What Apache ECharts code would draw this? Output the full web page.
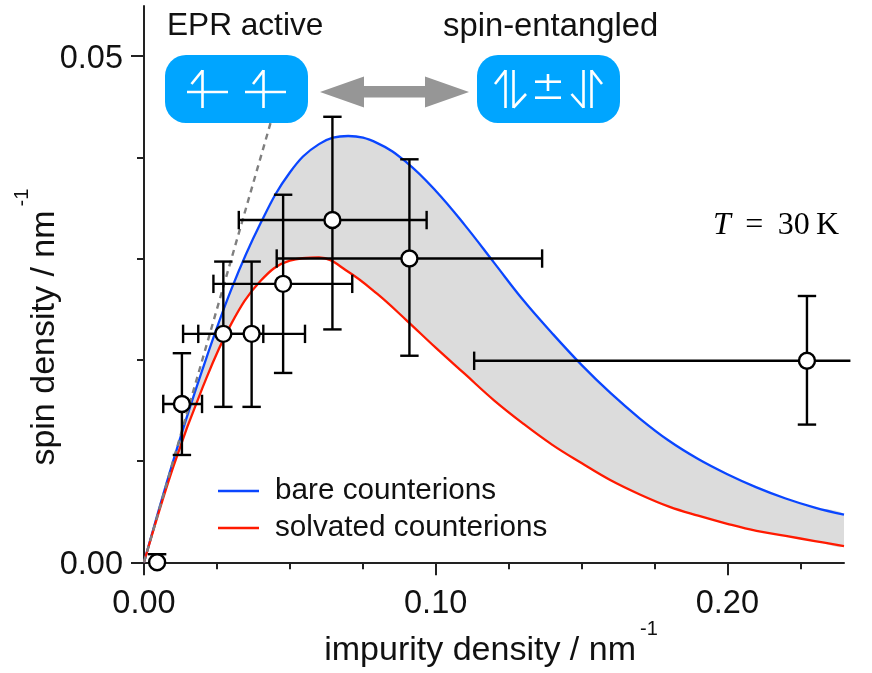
<!DOCTYPE html>
<html>
<head>
<meta charset="utf-8">
<title>spin density</title>
<script src="https://cdn.jsdelivr.net/npm/echarts@6/dist/echarts.min.js"></script>
<style>
  html, body { margin: 0; padding: 0; background: #fff; }
  #chart { width: 872px; height: 673px; }
</style>
</head>
<body>
<div id="chart"></div>
<script>
// curves, one value every 0.01 on the x axis
const curveX = [0, 0.01, 0.02, 0.03, 0.04, 0.05, 0.06, 0.07, 0.08, 0.09, 0.10, 0.11, 0.12,
  0.13, 0.14, 0.15, 0.16, 0.17, 0.18, 0.19, 0.20, 0.21, 0.22, 0.23, 0.24];
const bareValues = [0, 0.0100, 0.0190, 0.0270, 0.0335, 0.0385, 0.0413, 0.0421, 0.0414, 0.0395,
  0.0367, 0.0333, 0.0296, 0.0259, 0.0226, 0.0195, 0.0167, 0.0142, 0.0120, 0.0102,
  0.0087, 0.0074, 0.0063, 0.0054, 0.0047];
const solvatedValues = [0, 0.0094, 0.0172, 0.0236, 0.0278, 0.0298, 0.0301, 0.0287, 0.0265, 0.0239,
  0.0212, 0.0186, 0.0160, 0.0137, 0.0116, 0.0098, 0.0081, 0.0067, 0.0055, 0.0046,
  0.0038, 0.0031, 0.0026, 0.0021, 0.0016];
const linearLimit = [[0, 0], [0.0445, 0.0445]];

// measured points with their error ranges (null = no bar)
const pointX = [0.0045, 0.0130, 0.0272, 0.0369, 0.0477, 0.0646, 0.0910, 0.2273];
const pointY = [0, 0.01564, 0.02256, 0.02256, 0.0275, 0.0338, 0.0300, 0.0199];
const pointXLow = [null, 0.0066, 0.0134, 0.0186, 0.0238, 0.0325, 0.0455, 0.1132];
const pointXHigh = [null, 0.0199, 0.0409, 0.0552, 0.0714, 0.0969, 0.1365, 0.2422];
const pointYLow = [null, 0.0106, 0.01535, 0.01535, 0.0187, 0.0230, 0.0204, 0.0136];
const pointYHigh = [0.0008, 0.02065, 0.0297, 0.0297, 0.0363, 0.0440, 0.0398, 0.0263];
// the last horizontal bar runs off the frame and has no cap on the right
const rightCapped = [false, true, true, true, true, true, true, false];

const xMajorTicks = [0, 0.1, 0.2];
const xMinorTicks = [0.025, 0.05, 0.075, 0.125, 0.15, 0.175, 0.225];
const yMajorTicks = [0, 0.05];
const yMinorTicks = [0.01, 0.02, 0.03, 0.04];

const sans = '"Liberation Sans", Helvetica, Arial, sans-serif';
const serif = '"Liberation Serif", "Times New Roman", serif';
const capSize = 9.2;
const axisColor = '#222';

var bareCurve = curveX.map(function (x, i) { return [x, bareValues[i]]; });
var solvatedCurve = curveX.map(function (x, i) { return [x, solvatedValues[i]]; });

var chart = echarts.init(document.getElementById('chart'));

function line(x1, y1, x2, y2, color, width) {
  return {
    type: 'line',
    shape: { x1: x1, y1: y1, x2: x2, y2: y2 },
    style: { stroke: color, lineWidth: width }
  };
}

// little spin arrows inside the blue boxes
function spinLines(segments) {
  return segments.map(function (s) {
    return Object.assign(line(s[0], s[1], s[2], s[3], '#fff', 2.6), { z: 21 });
  });
}

function box(x) {
  return {
    type: 'rect', z: 20,
    shape: { x: x, y: 55, width: 143, height: 68, r: 21 },
    style: { fill: '#00a5ff' }
  };
}

var graphics = [
  box(165), box(477),
  {
    type: 'polygon', z: 20,
    shape: { points: [[320, 92], [364, 76.5], [364, 86], [425, 86], [425, 76.5], [469, 92], [425, 107.5], [425, 97.5], [364, 97.5], [364, 107.5]] },
    style: { fill: '#969696' }
  },
  { type: 'text', z: 20, x: 167, y: 10, style: { text: 'EPR active', font: '31.6px ' + sans, fill: '#111' } },
  { type: 'text', z: 20, x: 443, y: 10, style: { text: 'spin-entangled', font: '32.8px ' + sans, fill: '#111' } },
  {
    type: 'text', z: 20, x: 713, y: 210,
    style: {
      text: '{i|T} \u2009=\u2009 30\u2009K',
      font: '32px ' + serif, fill: '#000',
      rich: { i: { font: 'italic 32px ' + serif, fill: '#000' } }
    }
  }
].concat(spinLines([
  // left box
  [187, 92, 228, 92], [202.5, 70, 202.5, 108], [202.5, 70.5, 191.5, 84],
  [245, 92, 286, 92], [263.5, 70, 263.5, 108], [263.5, 70.5, 253, 84],
  // right box
  [505.5, 70, 505.5, 108], [505.5, 70.5, 495, 84],
  [513.5, 70, 513.5, 108], [513.5, 107.5, 526, 94],
  [535, 81.7, 561, 81.7], [548, 74, 548, 91], [535, 97.7, 561, 97.7],
  [583.5, 70, 583.5, 108], [583.5, 107.5, 571.5, 94],
  [591.5, 70, 591.5, 108], [591.5, 70.5, 602, 84]
]));

var errorData = pointX.map(function (x, i) {
  return [x, pointY[i], pointXLow[i], pointXHigh[i], pointYLow[i], pointYHigh[i], rightCapped[i] ? 1 : 0];
});

var option = {
  animation: false,
  backgroundColor: '#fff',
  grid: { left: 144, top: 6, width: 700, height: 556.3, containLabel: false, outerBoundsMode: 'none' },
  graphic: graphics,
  legend: {
    data: ['bare counterions', 'solvated counterions'],
    orient: 'vertical',
    left: 218, top: 476, padding: 0,
    itemWidth: 41, itemHeight: 14, itemGap: 7,
    icon: 'path://M0 0H41V2.4H0Z',
    textStyle: { fontFamily: sans, fontSize: 29.7, color: '#111', padding: [6, 0, 0, 11] }
  },
  xAxis: [
    {
      type: 'value', min: 0, max: 0.24, position: 'bottom',
      name: 'impurity density / nm{sup|-1}',
      nameLocation: 'middle', nameGap: 57, nameMoveOverlap: false,
      nameTextStyle: {
        fontFamily: sans, fontSize: 34, color: '#111', padding: [0, 6, 0, 0],
        rich: { sup: { fontFamily: sans, fontSize: 20, color: '#111', padding: [0, 0, 42, 4] } }
      },
      axisLine: { lineStyle: { color: axisColor, width: 2 } },
      axisTick: { length: 13, customValues: xMajorTicks, lineStyle: { color: axisColor, width: 2 } },
      axisLabel: {
        customValues: xMajorTicks, margin: 25,
        fontFamily: sans, fontSize: 32.5, color: '#111',
        formatter: function (v) { return v.toFixed(2); }
      },
      splitLine: { show: false }
    },
    {
      type: 'value', min: 0, max: 0.24, position: 'bottom',
      axisLine: { show: false },
      axisTick: { length: 7, customValues: xMinorTicks, lineStyle: { color: axisColor, width: 2 } },
      axisLabel: { show: false },
      splitLine: { show: false }
    }
  ],
  yAxis: [
    {
      type: 'value', min: 0, max: 0.05494, position: 'left',
      axisLine: { lineStyle: { color: axisColor, width: 2 } },
      axisTick: { length: 13, customValues: yMajorTicks, lineStyle: { color: axisColor, width: 2 } },
      axisLabel: {
        customValues: yMajorTicks, margin: 21, verticalAlign: 'top', lineHeight: 6,
        fontFamily: sans, fontSize: 32.5, color: '#111',
        formatter: function (v) { return v.toFixed(2); }
      },
      name: 'spin density / nm{sup|-1}',
      nameLocation: 'middle', nameRotate: 90, nameGap: 66, nameMoveOverlap: false,
      nameTextStyle: {
        fontFamily: sans, fontSize: 34, color: '#111', padding: [0, 86, 0, 0],
        rich: { sup: { fontFamily: sans, fontSize: 20, color: '#111', padding: [0, 0, 46, 4] } }
      },
      splitLine: { show: false }
    },
    {
      type: 'value', min: 0, max: 0.05494, position: 'left',
      axisLine: { show: false },
      axisTick: { length: 7, customValues: yMinorTicks, lineStyle: { color: axisColor, width: 2 } },
      axisLabel: { show: false },
      splitLine: { show: false }
    }
  ],
  series: [
    {
      // grey band between the two curves
      type: 'custom', name: 'band', silent: true, z: 1, clip: true,
      data: [[0, 0]],
      renderItem: function (params, api) {
        var pts = bareCurve.concat(solvatedCurve.slice().reverse()).map(function (p) {
          return api.coord(p);
        });
        return { type: 'polygon', shape: { points: pts, smooth: 0.3 }, style: { fill: '#dcdcdc' } };
      }
    },
    {
      name: 'bare counterions', type: 'line', z: 3, data: bareCurve,
      smooth: 0.4, showSymbol: false, symbol: 'none',
      lineStyle: { color: '#0a46ff', width: 2.3 }, itemStyle: { color: '#0a46ff' }
    },
    {
      name: 'solvated counterions', type: 'line', z: 3, data: solvatedCurve,
      smooth: 0.4, showSymbol: false, symbol: 'none',
      lineStyle: { color: '#ff1a00', width: 2.3 }, itemStyle: { color: '#ff1a00' }
    },
    {
      name: 'limit', type: 'line', z: 4, data: linearLimit,
      showSymbol: false, symbol: 'none',
      lineStyle: { color: '#7f7f7f', width: 2.4, type: [6, 5] }
    },
    {
      type: 'custom', name: 'errors', z: 5, clip: false, silent: true,
      data: errorData,
      renderItem: function (params, api) {
        var kids = [];
        var c = api.coord([api.value(0), api.value(1)]);
        var black = '#000';
        if (errorData[params.dataIndex][2] !== null) {
          var xl = api.coord([api.value(2), api.value(1)])[0];
          var xh = api.coord([api.value(3), api.value(1)])[0];
          kids.push(line(xl, c[1], xh, c[1], black, 2.4));
          kids.push(line(xl, c[1] - capSize, xl, c[1] + capSize, black, 2.4));
          if (api.value(6)) kids.push(line(xh, c[1] - capSize, xh, c[1] + capSize, black, 2.4));
        }
        var yh = api.coord([api.value(0), api.value(5)])[1];
        kids.push(line(c[0] - capSize, yh, c[0] + capSize, yh, black, 2.4));
        if (errorData[params.dataIndex][4] !== null) {
          var yl = api.coord([api.value(0), api.value(4)])[1];
          kids.push(line(c[0], yl, c[0], yh, black, 2.4));
          kids.push(line(c[0] - capSize, yl, c[0] + capSize, yl, black, 2.4));
        }
        return { type: 'group', children: kids };
      }
    },
    {
      name: 'points', type: 'scatter', z: 6, clip: false, silent: true,
      data: pointX.map(function (x, i) { return [x, pointY[i]]; }),
      symbol: 'circle', symbolSize: 16,
      itemStyle: { color: '#fff', borderColor: '#000', borderWidth: 2.4, opacity: 1 }
    }
  ]
};

chart.setOption(option);
</script>
</body>
</html>
